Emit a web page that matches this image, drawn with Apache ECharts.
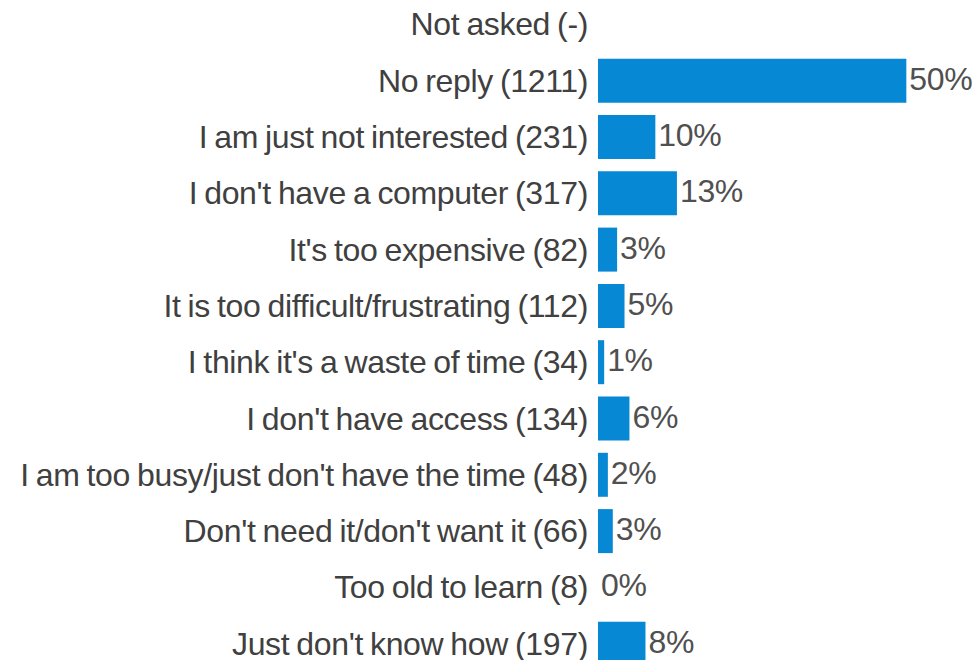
<!DOCTYPE html>
<html>
<head>
<meta charset="utf-8">
<script src="https://cdn.jsdelivr.net/npm/echarts@6/dist/echarts.min.js"></script>
<style>
  html, body { margin: 0; padding: 0; background: #ffffff; }
  #chart { width: 979px; height: 660px; }
  #chart svg text { letter-spacing: -0.35px; word-spacing: -1.5px; }
</style>
</head>
<body>
<div id="chart"></div>
<script>
// Categories (top to bottom) and their counts
var categories = [
  "Not asked",
  "No reply",
  "I am just not interested",
  "I don't have a computer",
  "It's too expensive",
  "It is too difficult/frustrating",
  "I think it's a waste of time",
  "I don't have access",
  "I am too busy/just don't have the time",
  "Don't need it/don't want it",
  "Too old to learn",
  "Just don't know how"
];
var counts = ["-", 1211, 231, 317, 82, 112, 34, 134, 48, 66, 8, 197];
// Bar values in percent
var percents = [null, 50.0, 9.3, 12.8, 3.1, 4.3, 1.0, 5.1, 1.6, 2.4, 0, 7.7];
// Value labels shown at bar ends
var valueLabels = ["", "50%", "10%", "13%", "3%", "5%", "1%", "6%", "2%", "3%", "0%", "8%"];

var lastIdx = categories.length - 1;
var axisData = categories.map(function (c, i) {
  var item = { value: c + " (" + counts[i] + ")" };
  // keep the bottom label inside the picture
  if (i === lastIdx) item.textStyle = { padding: [0, 0, 10, 0] };
  return item;
});

var chart = echarts.init(document.getElementById('chart'), null, { renderer: 'svg' });
chart.setOption({
  animation: false,
  backgroundColor: '#ffffff',
  grid: { left: 598, right: 11, top: -3.75, height: 675.6, outerBoundsMode: 'none', containLabel: false },
  xAxis: {
    type: 'value', min: 0, max: 60, show: false
  },
  yAxis: {
    type: 'category',
    data: axisData,
    inverse: true,
    axisLine: { show: false },
    axisTick: { show: false },
    splitLine: { show: false },
    axisLabel: {
      margin: 10,
      color: '#404040',
      fontFamily: '"Liberation Sans", Arial, sans-serif',
      fontSize: 32,
      lineHeight: 28,
      padding: [0, 0, 4, 0]
    }
  },
  series: [{
    type: 'bar',
    data: percents,
    barWidth: 44,
    itemStyle: { color: '#0788d4' },
    label: {
      show: true,
      position: 'right',
      distance: 3,
      offset: [0, -2],
      color: '#505050',
      fontFamily: '"Liberation Sans", Arial, sans-serif',
      fontSize: 32,
      lineHeight: 28,
      formatter: function (p) { return valueLabels[p.dataIndex]; }
    }
  }]
});
</script>
</body>
</html>
